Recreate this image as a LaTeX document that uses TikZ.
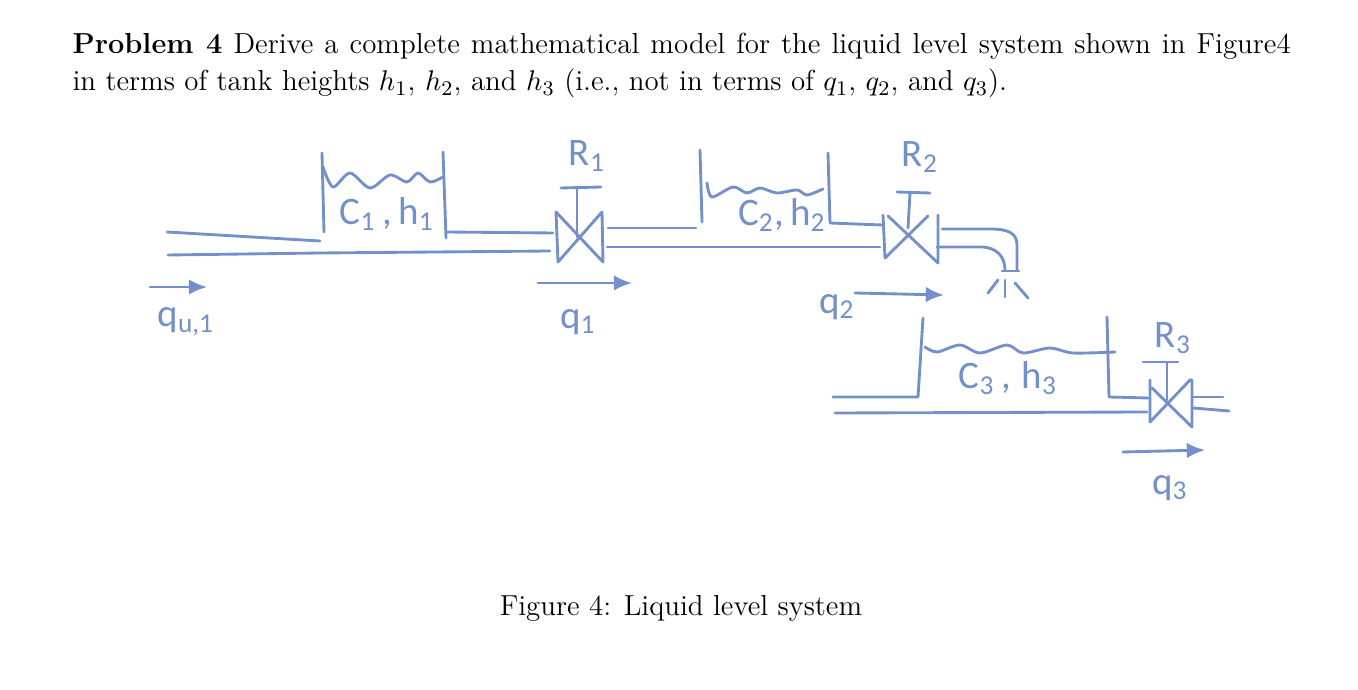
\documentclass[tikz,border=0pt]{standalone}
\usepackage{fontspec}
\newfontfamily\handfont{Carlito}
\usetikzlibrary{arrows.meta,positioning}
\definecolor{pen}{HTML}{7390CA}
\tikzset{hand/.style={
            draw=pen,
            line width=1.1pt,
            line cap=round,
            line join=round
        },
        flow/.style={
            hand,
            -{Latex[length=7pt,width=6pt]}
        },
        penlabel/.style={
            text=pen,
            inner sep=0pt,
            font=\handfont\fontsize{15}{15}\selectfont
        },
        printed/.style={
            inner sep=0pt,
            font=\fontsize{11.14}{14.2}\selectfont
        }
    }
\begin{document}
\begin{tikzpicture}[x=0.385pt,y=-0.385pt]
        \useasboundingbox (0,0) rectangle (1358,690);

        \node[printed,anchor=north west,text width=469pt,align=justify] (problem) at (72,33)
            {\textbf{Problem 4} Derive a complete mathematical model for the liquid level system shown in Figure4\linebreak in terms of tank heights $h_1$, $h_2$, and $h_3$ (i.e., not in terms of $q_1$, $q_2$, and $q_3$).};
        \node[printed,anchor=base] (caption) at (681,616) {Figure 4: Liquid level system};

        \draw[hand] (322,153) -- (324,232);
        \draw[hand] (443,152) -- (446,238);
        \draw[hand] plot[smooth] coordinates {(323,167) (333,187) (350,173) (370,188) (390,175) (407,182) (418,173) (430,182) (443,177)};
        \draw[hand] (167,232) -- (320,241);
        \draw[hand] (168,255) -- (320,253) -- (550,251);
        \draw[hand] (446,232) -- (553,233);
        \draw[hand] (556,212) -- (558,262) -- (602,212) -- (603,262) -- cycle;
        \draw[hand] (577,187) -- (577,237);
        \draw[hand] (561,188) -- (601,187);
        \draw[flow] (150,287) -- (207,287);
        \draw[flow] (538,283) -- (632,283);
        \node[penlabel] (capone) at (387,214) {C\textsubscript{1}\,,\,h\textsubscript{1}};
        \node[penlabel] (resone) at (587,156) {R\textsubscript{1}};
        \node[penlabel] (qin) at (186,322) {q\textsubscript{u,1}};
        \node[penlabel] (qone) at (578,322) {q\textsubscript{1}};

        \draw[hand] (608,228) -- (696,228);
        \draw[hand] (607,247) -- (880,247);
        \draw[hand] (700,150) -- (702,222);
        \draw[hand] (828,153) -- (830,223) -- (882,225);
        \draw[hand] plot[smooth] coordinates {(707,183) (712,197) (733,187) (747,193) (760,188) (777,193) (797,190) (807,195) (823,189)};
        \draw[hand] (883,215) -- (885,258) -- (928,216);
        \draw[hand] (888,216) -- (938,263) -- (938,215);
        \draw[hand] (910,193) -- (908,228);
        \draw[hand] (897,192) -- (930,193);
        \draw[hand] (942,229) -- (990,229) .. controls (1008,229) and (1017,233) .. (1017,245) -- (1017,270);
        \draw[hand] (937,247) -- (983,247) .. controls (996,248) and (1005,256) .. (1005,270);
        \draw[hand] (1002,271) -- (1019,271);
        \draw[hand] (988,293) -- (998,280);
        \draw[hand] (1005,280) -- (1005,297);
        \draw[hand] (1015,283) -- (1028,298);
        \draw[flow] (855,293) -- (944,295);
        \node[penlabel] (captwo) at (782,215) {C\textsubscript{2},\,h\textsubscript{2}};
        \node[penlabel] (restwo) at (920,157) {R\textsubscript{2}};
        \node[penlabel] (qtwo) at (837,307) {q\textsubscript{2}};

        \draw[hand] (923,318) -- (918,397) -- (833,397);
        \draw[hand] (1107,317) -- (1109,397) -- (1148,398);
        \draw[hand] plot[smooth] coordinates {(925,347) (937,352) (960,345) (980,353) (1007,345) (1023,353) (1050,348) (1073,353) (1115,352)};
        \draw[hand] (835,413) -- (1147,412);
        \draw[hand] (1150,380) -- (1150,422) -- (1190,380) -- (1192,380) -- (1192,427) -- (1152,388);
        \draw[hand] (1167,363) -- (1167,400);
        \draw[hand] (1143,362) -- (1178,362);
        \draw[hand] (1193,397) -- (1223,397);
        \draw[hand] (1193,408) -- (1229,411);
        \draw[flow] (1123,452) -- (1205,450);
        \node[penlabel] (capthree) at (1008,378) {C\textsubscript{3}\,,\;h\textsubscript{3}};
        \node[penlabel] (resthree) at (1173,338) {R\textsubscript{3}};
        \node[penlabel] (qthree) at (1170,488) {q\textsubscript{3}};
\end{tikzpicture}
\end{document}
